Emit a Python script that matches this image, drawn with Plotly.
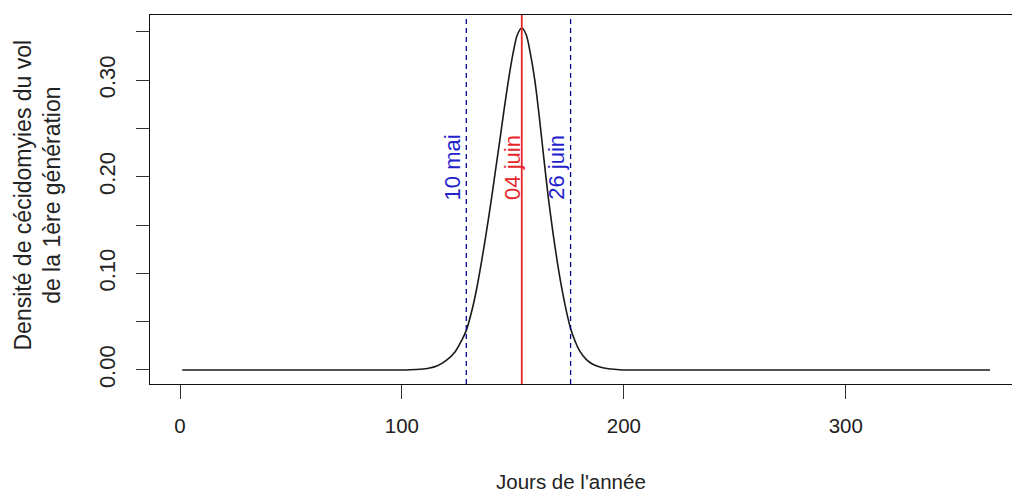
import plotly.graph_objects as go

# ---- data ----
days = [1, 50, 100, 104, 108, 112, 116, 120, 124, 127, 129, 132, 134, 136, 138,
        140, 142, 144, 146, 148, 150, 152, 154, 156, 158, 160, 162, 164, 166,
        168, 170, 172, 174, 176, 178, 180, 183, 186, 190, 194, 198, 202, 250,
        300, 365]
density = [0.0, 0.0, 0.0, 0.0003, 0.0008, 0.0018, 0.0045, 0.0100, 0.0190,
           0.0310, 0.0410, 0.0660, 0.0880, 0.1140, 0.1420, 0.1720, 0.2040,
           0.2360, 0.2690, 0.3000, 0.3270, 0.3470, 0.3540, 0.3470, 0.3260,
           0.2980, 0.2600, 0.2180, 0.1780, 0.1430, 0.1120, 0.0850, 0.0620,
           0.0430, 0.0300, 0.0200, 0.0110, 0.0060, 0.0025, 0.0010, 0.0003,
           0.0, 0.0, 0.0, 0.0]

mark_days = [129, 154, 176]
mark_labels = ["10 mai", "04 juin", "26 juin"]
mark_y = 0.21

x_ticks = [0, 100, 200, 300]
y_ticks = [0.0, 0.05, 0.10, 0.15, 0.20, 0.25, 0.30, 0.35]
y_ticktext = ["0.00", "", "0.10", "", "0.20", "", "0.30", ""]

x_title = "Jours de l'année"
y_title = "Densité de cécidomyies du vol<br>de la 1ère génération"

# ---- styles ----
FONT = "Liberation Sans, Arial, Helvetica, sans-serif"
BLUE_LINE = "#00008B"
BLUE_TEXT = "#2222CC"
RED = "#E8262A"
line_colors = [BLUE_LINE, RED, BLUE_LINE]
line_dashes = ["5px,4px", "solid", "5px,4px"]
line_widths = [1.3, 1.8, 1.3]
text_colors = [BLUE_TEXT, RED, BLUE_TEXT]
text_shift = [-14, -10, -14]

fig = go.Figure()
fig.add_trace(go.Scatter(
    x=days, y=density, mode="lines",
    line=dict(color="#1a1a1a", width=1.6, shape="spline", smoothing=0.8),
    hoverinfo="skip", showlegend=False))

for d, lab, lc, ld, lw, tc, sh in zip(mark_days, mark_labels, line_colors,
                                      line_dashes, line_widths, text_colors,
                                      text_shift):
    fig.add_shape(type="line", xref="x", yref="paper", x0=d, x1=d, y0=0, y1=1,
                  line=dict(color=lc, width=lw, dash=ld))
    fig.add_annotation(x=d, y=mark_y, xref="x", yref="y", text=lab,
                       textangle=-90, showarrow=False, xshift=sh,
                       font=dict(family=FONT, size=22, color=tc))

fig.add_annotation(xref="paper", yref="paper", x=(571 - 150) / 862,
                   y=(384 - 482) / 369, text=x_title, showarrow=False,
                   xanchor="center", yanchor="middle",
                   font=dict(family=FONT, size=20.5, color="#222"))
fig.add_annotation(xref="paper", yref="paper", x=(37 - 150) / 862,
                   y=0.5 + 4 / 369, text=y_title, showarrow=False,
                   textangle=-90, xanchor="center", yanchor="middle",
                   font=dict(family=FONT, size=23, color="#222"))

fig.update_layout(
    width=1012, height=495,
    margin=dict(l=150, r=0, t=15, b=111, pad=0),
    paper_bgcolor="white", plot_bgcolor="white",
    font=dict(family=FONT, color="#222"),
)
fig.update_xaxes(
    range=[-13.52, 374.9], tickvals=x_ticks, ticktext=[str(v) for v in x_ticks],
    showgrid=False, zeroline=False, showline=True, mirror=True,
    linecolor="#111", linewidth=1.2, ticks="outside", ticklen=14,
    tickcolor="#333", tickwidth=1.2, tickfont=dict(family=FONT, size=20.5),
    ticklabelstandoff=9)
fig.update_yaxes(
    range=[-0.0145, 0.3675], tickvals=y_ticks, ticktext=y_ticktext,
    showgrid=False, zeroline=False, showline=True, mirror=False,
    linecolor="#111", linewidth=1.2, ticks="outside", ticklen=13,
    tickcolor="#333", tickwidth=1.2, tickangle=-90,
    tickfont=dict(family=FONT, size=22), ticklabelstandoff=12)

fig.write_html("out.html")
